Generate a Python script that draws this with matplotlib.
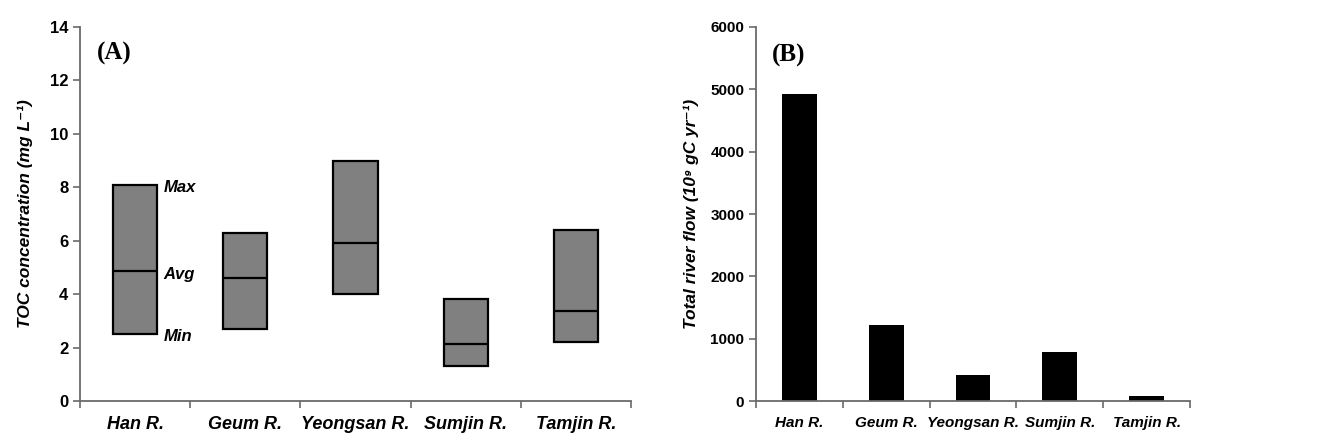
import numpy as np
import matplotlib
matplotlib.use("Agg")
import matplotlib.pyplot as plt

# ---------------------------------
# Data
# ---------------------------------
rivers = ["Han R.", "Geum R.", "Yeongsan R.", "Sumjin R.", "Tamjin R."]
toc_min = [2.5, 2.7, 4.0, 1.3, 2.2]
toc_avg = [4.85, 4.6, 5.92, 2.15, 3.37]
toc_max = [8.1, 6.3, 9.0, 3.82, 6.4]
river_flow = [4920, 1225, 425, 790, 75]

plt.rcParams["font.family"] = ["Liberation Sans", "DejaVu Sans"]

fig = plt.figure(figsize=(13.41, 4.44), dpi=100)
axA = fig.add_axes([0.0597, 0.0968, 0.4108, 0.8424])
axB = fig.add_axes([0.5638, 0.0968, 0.3236, 0.8424])

x = np.arange(len(rivers))
spine_col = "#6a6a6a"


def style_axis(ax, xlab_size, ylab_size):
    for s in ["top", "right"]:
        ax.spines[s].set_visible(False)
    for s in ["left", "bottom"]:
        ax.spines[s].set_color(spine_col)
        ax.spines[s].set_linewidth(1.3)
    ax.set_xlim(-0.5, len(rivers) - 0.5)
    # ticks at category boundaries, labels at centers
    ax.set_xticks(np.arange(-0.5, len(rivers), 1.0))
    ax.set_xticklabels([])
    ax.set_xticks(x, minor=True)
    ax.set_xticklabels(rivers, minor=True, fontsize=xlab_size,
                       fontweight="bold", fontstyle="italic")
    ax.tick_params(axis="x", which="major", length=5, color=spine_col, width=1.2)
    ax.tick_params(axis="x", which="minor", length=0, pad=11)
    ax.tick_params(axis="y", length=5, color=spine_col, width=1.2,
                   labelsize=ylab_size)
    for lab in ax.get_yticklabels():
        lab.set_fontweight("bold")


# ---------------------------------
# (A) TOC concentration
# ---------------------------------
heights = [mx - mn for mn, mx in zip(toc_min, toc_max)]
axA.bar(x, heights, bottom=toc_min, width=0.4, color="#808080",
        edgecolor="black", linewidth=1.6, zorder=2)
axA.hlines(toc_avg, x - 0.2, x + 0.2, colors="black", linewidth=1.6, zorder=3)
axA.set_ylim(0, 14)
axA.set_yticks(range(0, 15, 2))
style_axis(axA, 13, 12)
axA.set_ylabel("TOC concentration (mg L⁻¹)", fontsize=12.5,
               fontweight="bold", fontstyle="italic", labelpad=12)
axA.text(0.03, 0.96, "(A)", transform=axA.transAxes, fontsize=18,
         fontweight="bold", family="Liberation Serif", va="top")
for name, val in zip(["Max", "Avg", "Min"], [toc_max[0], toc_avg[0], toc_min[0]]):
    axA.text(x[0] + 0.26, val - 0.1, name, fontsize=12, fontweight="bold",
             fontstyle="italic", va="center", ha="left")

# ---------------------------------
# (B) Total river flow
# ---------------------------------
axB.bar(x, river_flow, width=0.4, color="black", zorder=2)
axB.set_ylim(0, 6000)
axB.set_yticks(range(0, 6001, 1000))
style_axis(axB, 11, 11)
axB.set_ylabel("Total river flow (10⁹ gC yr⁻¹)", fontsize=12.5,
               fontweight="bold", fontstyle="italic", labelpad=8)
axB.text(0.037, 0.955, "(B)", transform=axB.transAxes, fontsize=18,
         fontweight="bold", family="Liberation Serif", va="top")

fig.savefig("out.png", dpi=100)
